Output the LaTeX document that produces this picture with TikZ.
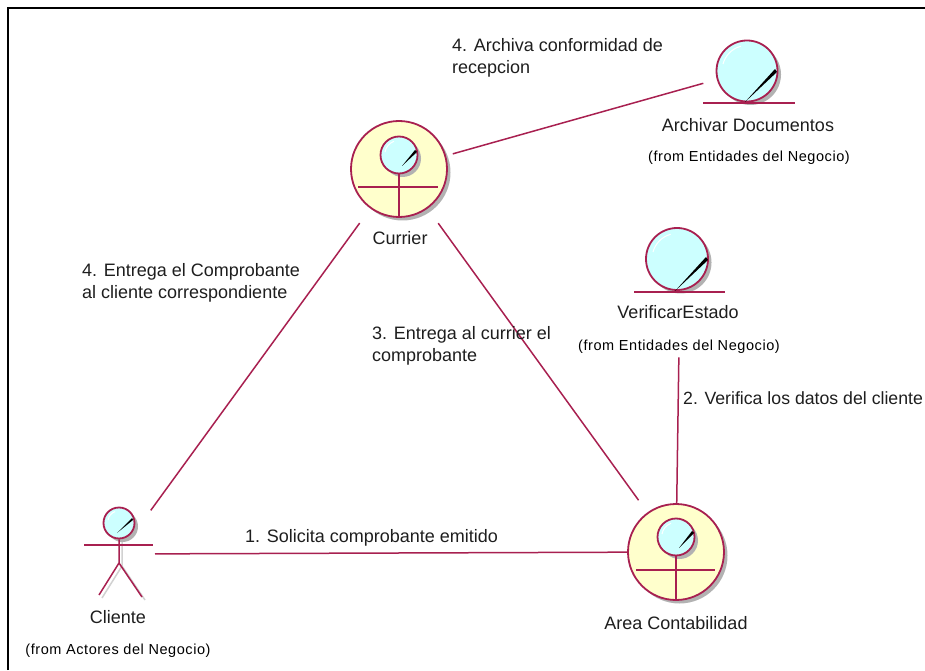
\documentclass[tikz,border=0pt]{standalone}
\usepackage{fontspec}
\setmainfont{Liberation Sans}
\usetikzlibrary{shadows}
\definecolor{wine}{RGB}{168,32,80}
\definecolor{paleyellow}{RGB}{255,255,204}
\definecolor{palecyan}{RGB}{204,255,255}
\definecolor{inkgray}{RGB}{30,30,30}
\tikzset{
	link/.style={draw=wine, line width=1.5pt},
	bigcircle/.style={circle, draw=wine, line width=1.8pt, fill=paleyellow, minimum size=96pt, inner sep=0pt,
		drop shadow={shadow xshift=3.5pt, shadow yshift=-3.5pt, fill=black!30, opacity=1}},
	lens/.style={circle, draw=wine, line width=1.8pt, fill=palecyan, inner sep=0pt,
		drop shadow={shadow xshift=3.5pt, shadow yshift=-3.5pt, fill=black!30, opacity=1}},
	msg/.style={text=inkgray, font=\fontsize{18}{22}\selectfont, align=left, anchor=west, inner sep=0pt},
	nametxt/.style={text=inkgray, font=\fontsize{18}{20}\selectfont},
	fromtxt/.style={text=black, font=\fontsize{14.5}{16}\selectfont\addfontfeature{LetterSpace=4}},
	pen/.style={fill=black},
	shine/.style={draw=white, line width=1pt}
}
\begin{document}
\begin{tikzpicture}[x=100pt,y=100pt]
	\useasboundingbox (0,0) rectangle (9.25,6.70);
	\draw [line width=2.5pt] (.08,0) -- (.08,6.62) -- (9.25,6.62);

	% Currier
	\node [bigcircle] (currier) at (3.99,5.01) {};
	\node [lens, minimum size=37pt] (currierhead) at (3.99,5.15) {};
	\draw [link] (3.58,4.83) -- (4.38,4.83); \draw [link] (currierhead) -- (currier.south);
	\draw [shine] (3.85,5.18) arc (170:110:.14);
	\fill [pen] (4.02,5.04) -- (4.15,5.20) -- (4.17,5.18) -- cycle;
	\node [nametxt] (curriername) at (4,4.32) {Currier};

	% Area Contabilidad
	\node [bigcircle] (area) at (6.76,1.18) {};
	\node [lens, minimum size=37pt] (areahead) at (6.76,1.33) {};
	\draw [link] (6.36,1) -- (7.15,1); \draw [link] (areahead) -- (area.south);
	\draw [shine] (6.62,1.36) arc (170:110:.14);
	\fill [pen] (6.79,1.22) -- (6.92,1.39) -- (6.94,1.37) -- cycle;
	\node [nametxt] (areaname) at (6.76,.47) {Area Contabilidad};

	% Archivar Documentos
	\node [lens, minimum size=61pt] (archivar) at (7.47,5.99) {};
	\draw [link] (7.03,5.67) -- (7.95,5.67);
	\draw [shine] (7.23,6.06) arc (165:105:.25);
	\fill [pen] (7.45,5.68) -- (7.75,6.01) -- (7.77,5.98) -- cycle;
	\node [nametxt] (archivarname) at (7.48,5.45) {Archivar Documentos};
	\node [fromtxt] (archivarfrom) at (7.49,5.12) {(from Entidades del Negocio)};

	% VerificarEstado
	\node [lens, minimum size=62pt] (verificar) at (6.77,4.11) {};
	\draw [link] (6.34,3.78) -- (7.25,3.78);
	\draw [shine] (6.53,4.18) arc (165:105:.25);
	\fill [pen] (6.75,3.79) -- (7.06,4.13) -- (7.08,4.10) -- cycle;
	\node [nametxt] (verificarname) at (6.78,3.58) {VerificarEstado};
	\node [fromtxt] (verificarfrom) at (6.79,3.23) {(from Entidades del Negocio)};

	% Cliente
	\draw [black!18, line width=1.5pt] (1.22,1.44) -- (1.22,1.04) (1.22,1.04) -- (1.02,.72) (1.22,1.04) -- (1.45,.70);
	\node [lens, minimum size=31pt] (clientehead) at (1.19,1.47) {};
	\coordinate (hip) at (1.19,1.07);
	\coordinate (cliente) at (1.19,1.16);
	\draw [link] (.84,1.25) -- (1.53,1.25);
	\draw [link] (clientehead) -- (hip) -- (.99,.75) (hip) -- (1.42,.73);
	\draw [shine] (1.08,1.50) arc (170:110:.11);
	\fill [pen] (1.17,1.37) -- (1.32,1.52) -- (1.33,1.50) -- cycle;
	\node [nametxt] (clientename) at (1.18,.53) {Cliente};
	\node [fromtxt] (clientefrom) at (1.18,.19) {(from Actores del Negocio)};

	% connectors
	\draw [link, shorten <=7pt, shorten >=14pt] (currier) -- (archivar);
	\draw [link, shorten <=18pt, shorten >=54pt] (currier) -- (cliente);
	\draw [link, shorten <=18pt, shorten >=15pt] (currier) -- (area);
	\draw [link] (verificarfrom) -- (area);
	\draw [link, shorten <=36pt] (cliente) -- (area);

	% messages
	\node [msg] (msgarchiva) at (4.52,6.12) {4. Archiva conformidad de\\recepcion};
	\node [msg] (msgentrega) at (.82,3.87) {4. Entrega el Comprobante\\al cliente correspondiente};
	\node [msg] (msgcurrier) at (3.72,3.24) {3. Entrega al currier el\\comprobante};
	\node [msg, font=\fontsize{17.7}{22}\selectfont] (msgverifica) at (6.83,2.72) {2. Verifica los datos del cliente};
	\node [msg] (msgsolicita) at (2.45,1.32) {1. Solicita comprobante emitido};
\end{tikzpicture}
\end{document}
